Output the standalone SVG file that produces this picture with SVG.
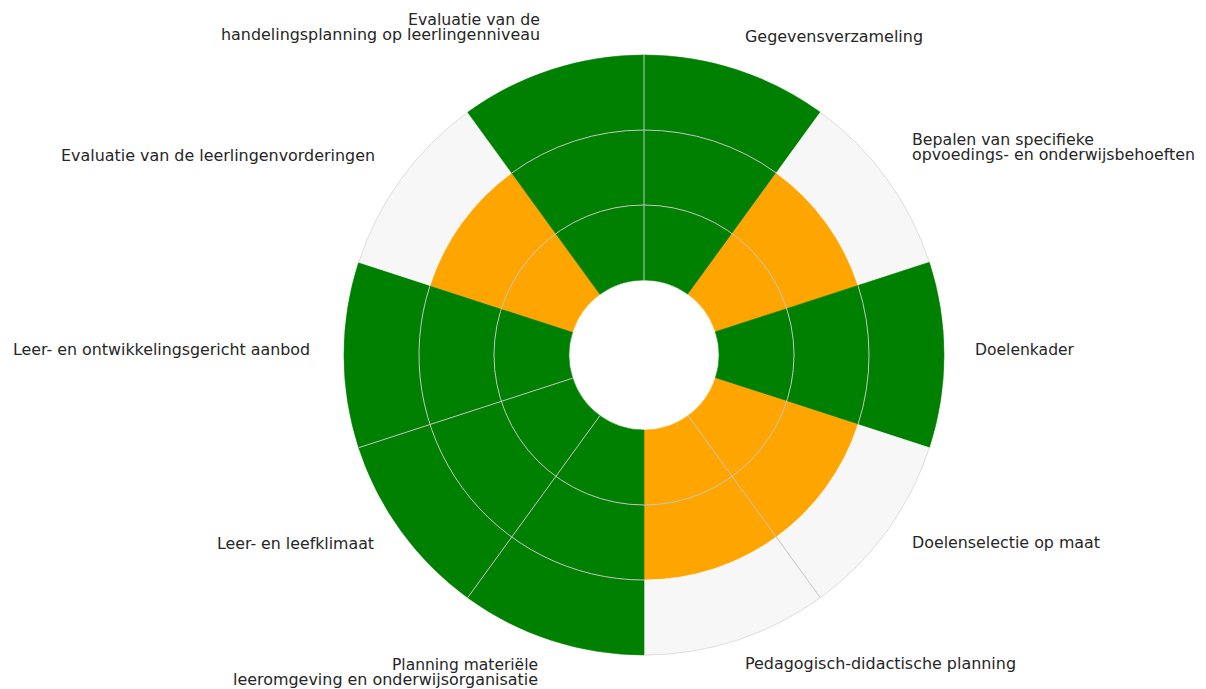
<svg xmlns="http://www.w3.org/2000/svg" width="1206" height="689" viewBox="0 0 1206 689">
<style>
  text { font-family: "DejaVu Sans", "Liberation Sans", sans-serif; font-size: 16px; fill: #262626; }
  .g { fill: #008000; stroke: #008000; stroke-width: 0.6; }
  .o { fill: #FFA500; stroke: #FFA500; stroke-width: 0.6; }
  .w { fill: #f7f7f7; stroke: #f7f7f7; stroke-width: 0.6; }
  .grid { fill: none; stroke: #c4c4c4; stroke-width: 1; }
  .edge { fill: none; stroke: #dedede; stroke-width: 1; }
</style>
<rect width="1206" height="689" fill="#ffffff"/>

<g id="seg-gegevensverzameling">
  <path class="g" d="M644,280 L644,205 A150,150 0 0 1 732.17,233.65 L688.08,294.32 A75,75 0 0 0 644,280 Z"/>
  <path class="g" d="M644,205 L644,130 A225,225 0 0 1 776.25,172.97 L732.17,233.65 A150,150 0 0 0 644,205 Z"/>
  <path class="g" d="M644,130 L644,55 A300,300 0 0 1 820.34,112.30 L776.25,172.97 A225,225 0 0 0 644,130 Z"/>
</g>
<g id="seg-bepalen">
  <path class="o" d="M688.08,294.32 L732.17,233.65 A150,150 0 0 1 786.66,308.65 L715.33,331.82 A75,75 0 0 0 688.08,294.32 Z"/>
  <path class="o" d="M732.17,233.65 L776.25,172.97 A225,225 0 0 1 857.99,285.47 L786.66,308.65 A150,150 0 0 0 732.17,233.65 Z"/>
  <path class="w" d="M776.25,172.97 L820.34,112.30 A300,300 0 0 1 929.32,262.30 L857.99,285.47 A225,225 0 0 0 776.25,172.97 Z"/>
</g>
<g id="seg-doelenkader">
  <path class="g" d="M715.33,331.82 L786.66,308.65 A150,150 0 0 1 786.66,401.35 L715.33,378.18 A75,75 0 0 0 715.33,331.82 Z"/>
  <path class="g" d="M786.66,308.65 L857.99,285.47 A225,225 0 0 1 857.99,424.53 L786.66,401.35 A150,150 0 0 0 786.66,308.65 Z"/>
  <path class="g" d="M857.99,285.47 L929.32,262.30 A300,300 0 0 1 929.32,447.70 L857.99,424.53 A225,225 0 0 0 857.99,285.47 Z"/>
</g>
<g id="seg-doelenselectie">
  <path class="o" d="M715.33,378.18 L786.66,401.35 A150,150 0 0 1 732.17,476.35 L688.08,415.68 A75,75 0 0 0 715.33,378.18 Z"/>
  <path class="o" d="M786.66,401.35 L857.99,424.53 A225,225 0 0 1 776.25,537.03 L732.17,476.35 A150,150 0 0 0 786.66,401.35 Z"/>
  <path class="w" d="M857.99,424.53 L929.32,447.70 A300,300 0 0 1 820.34,597.70 L776.25,537.03 A225,225 0 0 0 857.99,424.53 Z"/>
</g>
<g id="seg-pedagogisch">
  <path class="o" d="M688.08,415.68 L732.17,476.35 A150,150 0 0 1 644,505 L644,430 A75,75 0 0 0 688.08,415.68 Z"/>
  <path class="o" d="M732.17,476.35 L776.25,537.03 A225,225 0 0 1 644,580 L644,505 A150,150 0 0 0 732.17,476.35 Z"/>
  <path class="w" d="M776.25,537.03 L820.34,597.70 A300,300 0 0 1 644,655 L644,580 A225,225 0 0 0 776.25,537.03 Z"/>
</g>
<g id="seg-planning-materiele">
  <path class="g" d="M644,430 L644,505 A150,150 0 0 1 555.83,476.35 L599.92,415.68 A75,75 0 0 0 644,430 Z"/>
  <path class="g" d="M644,505 L644,580 A225,225 0 0 1 511.75,537.03 L555.83,476.35 A150,150 0 0 0 644,505 Z"/>
  <path class="g" d="M644,580 L644,655 A300,300 0 0 1 467.66,597.70 L511.75,537.03 A225,225 0 0 0 644,580 Z"/>
</g>
<g id="seg-leefklimaat">
  <path class="g" d="M599.92,415.68 L555.83,476.35 A150,150 0 0 1 501.34,401.35 L572.67,378.18 A75,75 0 0 0 599.92,415.68 Z"/>
  <path class="g" d="M555.83,476.35 L511.75,537.03 A225,225 0 0 1 430.01,424.53 L501.34,401.35 A150,150 0 0 0 555.83,476.35 Z"/>
  <path class="g" d="M511.75,537.03 L467.66,597.70 A300,300 0 0 1 358.68,447.70 L430.01,424.53 A225,225 0 0 0 511.75,537.03 Z"/>
</g>
<g id="seg-aanbod">
  <path class="g" d="M572.67,378.18 L501.34,401.35 A150,150 0 0 1 501.34,308.65 L572.67,331.82 A75,75 0 0 0 572.67,378.18 Z"/>
  <path class="g" d="M501.34,401.35 L430.01,424.53 A225,225 0 0 1 430.01,285.47 L501.34,308.65 A150,150 0 0 0 501.34,401.35 Z"/>
  <path class="g" d="M430.01,424.53 L358.68,447.70 A300,300 0 0 1 358.68,262.30 L430.01,285.47 A225,225 0 0 0 430.01,424.53 Z"/>
</g>
<g id="seg-leerlingenvorderingen">
  <path class="o" d="M572.67,331.82 L501.34,308.65 A150,150 0 0 1 555.83,233.65 L599.92,294.32 A75,75 0 0 0 572.67,331.82 Z"/>
  <path class="o" d="M501.34,308.65 L430.01,285.47 A225,225 0 0 1 511.75,172.97 L555.83,233.65 A150,150 0 0 0 501.34,308.65 Z"/>
  <path class="w" d="M430.01,285.47 L358.68,262.30 A300,300 0 0 1 467.66,112.30 L511.75,172.97 A225,225 0 0 0 430.01,285.47 Z"/>
</g>
<g id="seg-handelingsplanning">
  <path class="g" d="M599.92,294.32 L555.83,233.65 A150,150 0 0 1 644,205 L644,280 A75,75 0 0 0 599.92,294.32 Z"/>
  <path class="g" d="M555.83,233.65 L511.75,172.97 A225,225 0 0 1 644,130 L644,205 A150,150 0 0 0 555.83,233.65 Z"/>
  <path class="g" d="M511.75,172.97 L467.66,112.30 A300,300 0 0 1 644,55 L644,130 A225,225 0 0 0 511.75,172.97 Z"/>
</g>

<g id="grid">
  <circle class="grid" cx="644" cy="355" r="150"/>
  <path class="grid" d="M644,580 A225,225 0 0 1 430.01,285.47"/>
  <path class="grid" d="M511.75,172.97 A225,225 0 0 1 776.25,172.97"/>
  <path class="grid" d="M857.99,285.47 A225,225 0 0 1 857.99,424.53"/>
  <line class="grid" x1="644" y1="280" x2="644" y2="55"/>
  <line class="grid" x1="688.08" y1="415.68" x2="820.34" y2="597.70"/>
  <line class="grid" x1="599.92" y1="415.68" x2="467.66" y2="597.70"/>
  <line class="grid" x1="572.67" y1="378.18" x2="358.68" y2="447.70"/>
  <path class="edge" d="M820.34,112.30 A300,300 0 0 1 929.32,262.30"/>
  <path class="edge" d="M929.32,447.70 A300,300 0 0 1 644,655"/>
  <path class="edge" d="M358.68,262.30 A300,300 0 0 1 467.66,112.30"/>
</g>

<g id="labels">
  <text x="745" y="42" textLength="178" lengthAdjust="spacingAndGlyphs">Gegevensverzameling</text>
  <text x="912" y="145" textLength="182" lengthAdjust="spacingAndGlyphs">Bepalen van specifieke</text>
  <text x="912" y="160" textLength="283" lengthAdjust="spacingAndGlyphs">opvoedings- en onderwijsbehoeften</text>
  <text x="975" y="355" textLength="99" lengthAdjust="spacingAndGlyphs">Doelenkader</text>
  <text x="912" y="548" textLength="188" lengthAdjust="spacingAndGlyphs">Doelenselectie op maat</text>
  <text x="745" y="669" textLength="271" lengthAdjust="spacingAndGlyphs">Pedagogisch-didactische planning</text>
  <text x="392" y="670" textLength="146" lengthAdjust="spacingAndGlyphs">Planning materiële</text>
  <text x="233" y="685" textLength="305" lengthAdjust="spacingAndGlyphs">leeromgeving en onderwijsorganisatie</text>
  <text x="217" y="549" textLength="157" lengthAdjust="spacingAndGlyphs">Leer- en leefklimaat</text>
  <text x="13" y="355" textLength="297" lengthAdjust="spacingAndGlyphs">Leer- en ontwikkelingsgericht aanbod</text>
  <text x="61" y="161" textLength="314" lengthAdjust="spacingAndGlyphs">Evaluatie van de leerlingenvorderingen</text>
  <text x="408" y="25" textLength="132" lengthAdjust="spacingAndGlyphs">Evaluatie van de</text>
  <text x="221" y="40" textLength="319" lengthAdjust="spacingAndGlyphs">handelingsplanning op leerlingenniveau</text>
</g>
</svg>
